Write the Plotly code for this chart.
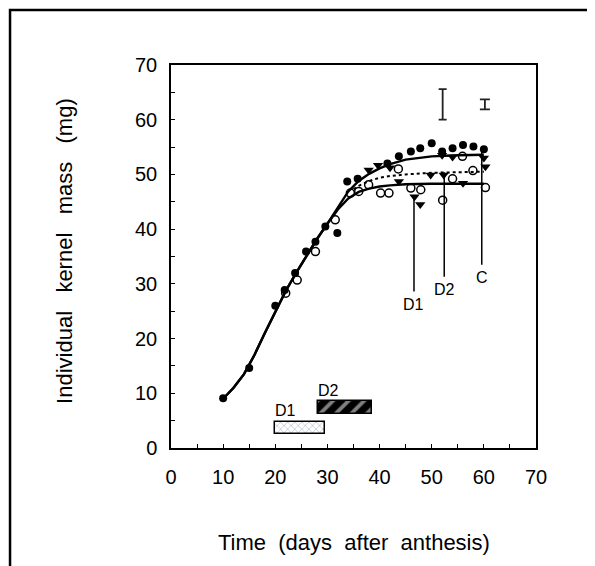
import plotly.graph_objects as go

# ---------------- data ----------------
# Fitted curves
C_curve_t = [10, 12, 14, 16, 18, 20, 22, 24, 26, 28, 30, 32, 34, 36, 38, 40, 42, 45, 50, 55, 60]
C_curve_y = [9.0, 11.0, 13.5, 17.0, 21.0, 25.0, 28.7, 32.0, 35.2, 38.2, 41.0, 44.0, 46.9, 48.8, 50.1, 51.1, 51.9, 52.7, 53.3, 53.5, 53.6]

D1_curve_t = [10, 12, 14, 16, 18, 20, 22, 24, 26, 28, 30, 32, 34, 36, 38, 40, 42, 45, 50, 55, 60]
D1_curve_y = [9.0, 11.0, 13.5, 17.0, 21.0, 25.0, 28.7, 32.0, 35.2, 38.2, 41.0, 43.6, 45.6, 46.8, 47.4, 47.8, 48.0, 48.2, 48.3, 48.3, 48.3]

D2_curve_t = [35, 36, 38, 40, 42, 45, 50, 55, 60]
D2_curve_y = [47.3, 47.9, 48.8, 49.4, 49.7, 50.0, 50.3, 50.4, 50.5]

# Observations
C_obs_t = [10, 15, 20, 21.8, 23.8, 25.9, 27.7, 29.6, 31.9, 33.8, 35.8, 41.5, 43.7, 46.0, 47.8, 50.0, 52.0, 54.0, 56.0, 58.0, 60.0]
C_obs_y = [9.1, 14.6, 26.0, 28.9, 32.0, 35.9, 37.7, 40.5, 39.3, 48.7, 49.2, 52.0, 53.3, 54.2, 54.8, 55.7, 54.2, 54.8, 55.4, 55.1, 54.6]

D1_obs_t = [22.0, 24.2, 27.7, 31.5, 34.4, 36.0, 37.9, 40.2, 41.8, 43.6, 46.0, 47.9, 52.1, 54.0, 55.9, 57.9, 60.3]
D1_obs_y = [28.3, 30.7, 35.9, 41.7, 46.6, 46.9, 48.1, 46.6, 46.6, 51.0, 47.5, 47.2, 45.3, 49.2, 53.3, 50.7, 47.6]

D2_obs_t = [37.9, 39.7, 42.0, 43.7, 46.7, 47.8, 49.8, 52.0, 52.3, 54.0, 56.0, 60.3, 60.0]
D2_obs_y = [50.8, 51.7, 51.2, 48.7, 45.9, 44.5, 49.9, 53.5, 49.9, 53.2, 48.4, 51.4, 53.0]

# Error bars (LSD)
err_t = [52.1, 60.2]
err_y = [62.8, 62.8]
err_half = [2.8, 0.9]

# Treatment labels at end of curves
lab_names = ["D1", "D2", "C"]
lab_t = [46.6, 52.4, 59.6]
lab_top = [45.9, 50.4, 54.5]
lab_bottom = [28.6, 31.3, 33.5]
lab_text_y = [26.2, 28.9, 31.1]

# Drought periods
period_names = ["D1", "D2"]
period_start = [20.0, 28.1]
period_end = [29.6, 38.6]
period_level = [3.7, 7.4]
period_thick = 2.2
period_label_t = [21.9, 30.3]
period_label_y = [6.9, 10.6]

x_ticks = [0, 10, 20, 30, 40, 50, 60, 70]
y_ticks = [0, 10, 20, 30, 40, 50, 60, 70]

FONT = "Liberation Sans, Arial, sans-serif"

fig = go.Figure()

# drought period boxes
fig.add_trace(go.Bar(
    orientation="h", base=[period_start[0]], x=[period_end[0] - period_start[0]],
    y=[period_level[0]], width=period_thick,
    marker=dict(color="white", line=dict(color="black", width=1.5),
                pattern=dict(shape="x", fgcolor="#6f7f95", bgcolor="white", size=5, solidity=0.25)),
    showlegend=False, hoverinfo="skip"))
fig.add_trace(go.Bar(
    orientation="h", base=[period_start[1]], x=[period_end[1] - period_start[1]],
    y=[period_level[1]], width=period_thick,
    marker=dict(color="black", line=dict(color="black", width=1.5),
                pattern=dict(shape="/", fgcolor="white", bgcolor="black", size=11, solidity=0.35)),
    showlegend=False, hoverinfo="skip"))

# curves
fig.add_trace(go.Scatter(x=D1_curve_t, y=D1_curve_y, mode="lines",
                         line=dict(color="black", width=2.4), showlegend=False))
fig.add_trace(go.Scatter(x=C_curve_t, y=C_curve_y, mode="lines",
                         line=dict(color="black", width=2.4), showlegend=False))
fig.add_trace(go.Scatter(x=D2_curve_t, y=D2_curve_y, mode="lines",
                         line=dict(color="black", width=2, dash="dot"), showlegend=False))

# vertical label lines
for i in range(len(lab_names)):
    fig.add_trace(go.Scatter(x=[lab_t[i], lab_t[i]], y=[lab_top[i], lab_bottom[i]], mode="lines",
                             line=dict(color="black", width=1.5), showlegend=False))
    fig.add_annotation(x=lab_t[i], y=lab_text_y[i], text=lab_names[i], showarrow=False,
                       xanchor="center", yanchor="middle",
                       font=dict(family=FONT, size=16, color="black"))

# observations
fig.add_trace(go.Scatter(x=C_obs_t, y=C_obs_y, mode="markers",
                         marker=dict(symbol="circle", size=8, color="black"), showlegend=False))
fig.add_trace(go.Scatter(x=D2_obs_t, y=D2_obs_y, mode="markers",
                         marker=dict(symbol="triangle-down", size=9, color="black"), showlegend=False))
fig.add_trace(go.Scatter(x=D1_obs_t, y=D1_obs_y, mode="markers",
                         marker=dict(symbol="circle-open", size=8, color="black", line=dict(width=1.5)),
                         showlegend=False))

# error bars
fig.add_trace(go.Scatter(x=[err_t[0]], y=[err_y[0]], mode="markers",
                         marker=dict(size=1, color="rgba(0,0,0,0)"),
                         error_y=dict(type="data", array=[err_half[0]], color="#222", thickness=1.8, width=4),
                         showlegend=False))
fig.add_trace(go.Scatter(x=[err_t[1]], y=[err_y[1]], mode="markers",
                         marker=dict(size=1, color="rgba(0,0,0,0)"),
                         error_y=dict(type="data", array=[err_half[1]], color="#222", thickness=1.8, width=5),
                         showlegend=False))

# period labels
for i in range(len(period_names)):
    fig.add_annotation(x=period_label_t[i], y=period_label_y[i], text=period_names[i], showarrow=False,
                       xanchor="center", yanchor="middle",
                       font=dict(family=FONT, size=16, color="black"))

# axis titles
fig.add_annotation(xref="paper", yref="paper", x=0.5, y=-0.248, text="Time  (days  after  anthesis)",
                   showarrow=False, xanchor="center", yanchor="middle",
                   font=dict(family=FONT, size=22, color="black"))
fig.add_annotation(xref="paper", yref="paper", x=-0.29, y=0.515, text="Individual   kernel   mass   (mg)",
                   showarrow=False, textangle=-90, xanchor="center", yanchor="middle",
                   font=dict(family=FONT, size=22, color="black"))

# outer frame
fig.add_shape(type="rect", xref="paper", yref="paper", x0=-0.441, x1=1.148, y0=-0.33, y1=1.1436,
              line=dict(color="black", width=2.5), fillcolor="rgba(0,0,0,0)", layer="below")

axis_common = dict(showgrid=False, zeroline=False, showline=True, linecolor="black", linewidth=1.5,
                   mirror=True, ticks="inside", ticklen=4, tickcolor="black", tickwidth=1,
                   tickfont=dict(family=FONT, size=20, color="black"),
                   minor=dict(ticks="inside", dtick=5, ticklen=4, tickcolor="black", tickwidth=1))

fig.update_xaxes(range=[0, 70], tickvals=x_ticks, ticklabelstandoff=10, **axis_common)
fig.update_yaxes(range=[0, 70], tickvals=y_ticks, ticklabelstandoff=8, **axis_common)

# page body has an 8px margin, so the figure is shifted by 8px
fig.update_layout(width=587, height=558, margin=dict(l=163, r=59, t=57, b=118),
                  paper_bgcolor="white", plot_bgcolor="white", bargap=0, showlegend=False)

fig.write_html("out.html")
